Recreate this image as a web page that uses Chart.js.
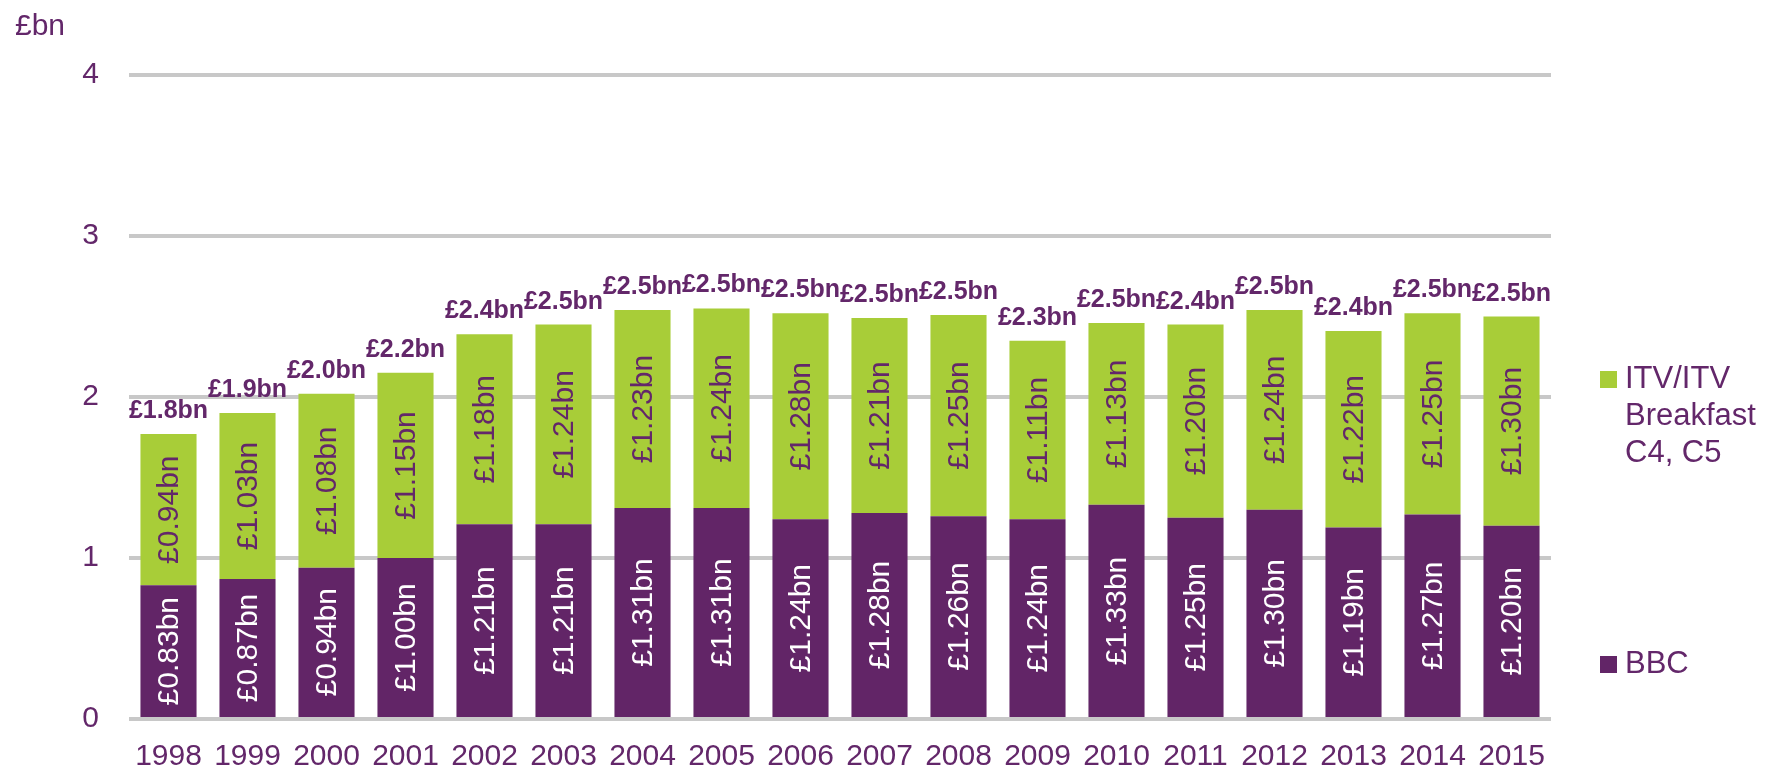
<!DOCTYPE html>
<html>
<head>
<meta charset="utf-8">
<script src="https://cdn.jsdelivr.net/npm/chart.js@4"></script>
<style>
  body { margin: 0; background: #fff; }
  #wrap { width: 1771px; height: 771px; position: relative; }
</style>
</head>
<body>
<div id="wrap"><canvas id="myChart"></canvas></div>
<script>
var years = ['1998', '1999', '2000', '2001', '2002', '2003', '2004', '2005', '2006',
             '2007', '2008', '2009', '2010', '2011', '2012', '2013', '2014', '2015'];
var bbc = [0.83, 0.87, 0.94, 1.00, 1.21, 1.21, 1.31, 1.31, 1.24,
           1.28, 1.26, 1.24, 1.33, 1.25, 1.30, 1.19, 1.27, 1.20];
var itv = [0.94, 1.03, 1.08, 1.15, 1.18, 1.24, 1.23, 1.24, 1.28,
           1.21, 1.25, 1.11, 1.13, 1.20, 1.24, 1.22, 1.25, 1.30];
var totalLabels = ['£1.8bn', '£1.9bn', '£2.0bn', '£2.2bn', '£2.4bn', '£2.5bn', '£2.5bn', '£2.5bn', '£2.5bn',
                   '£2.5bn', '£2.5bn', '£2.3bn', '£2.5bn', '£2.4bn', '£2.5bn', '£2.4bn', '£2.5bn', '£2.5bn'];
var seriesNames = ['BBC', 'ITV/ITV Breakfast C4, C5'];
var legendLines = [['BBC'], ['ITV/ITV', 'Breakfast', 'C4, C5']];
var yMax = 4;
var unitLabel = '£bn';

var PURPLE = '#622567';
var GREEN = '#a8cd38';
var TEXT = '#63276a';
var FONT = '"Liberation Sans", Arial, sans-serif';

// labels inside bars (rotated) and totals above
var barText = {
  id: 'barText',
  afterDatasetsDraw: function(chart) {
    var ctx = chart.ctx;
    ctx.save();
    ctx.font = '30px ' + FONT;
    ctx.textAlign = 'center';
    ctx.textBaseline = 'middle';
    chart.data.datasets.forEach(function(ds, d) {
      var meta = chart.getDatasetMeta(d);
      ctx.fillStyle = d == 0 ? '#ffffff' : TEXT;
      meta.data.forEach(function(bar, i) {
        ctx.save();
        ctx.translate(bar.x, (bar.y + bar.base) / 2);
        ctx.rotate(-Math.PI / 2);
        ctx.fillText('£' + ds.data[i].toFixed(2) + 'bn', 0, 1);
        ctx.restore();
      });
    });
    // totals
    var top = chart.getDatasetMeta(1);
    ctx.font = 'bold 25px ' + FONT;
    ctx.fillStyle = TEXT;
    ctx.textBaseline = 'alphabetic';
    top.data.forEach(function(bar, i) {
      ctx.fillText(totalLabels[i], bar.x, bar.y - 16);
    });
    ctx.restore();
  },
  afterDraw: function(chart) {
    var ctx = chart.ctx;
    var area = chart.chartArea;
    ctx.save();
    // unit label
    ctx.font = '30px ' + FONT;
    ctx.fillStyle = TEXT;
    ctx.textAlign = 'left';
    ctx.textBaseline = 'alphabetic';
    ctx.fillText(unitLabel, 15, 35);
    // legend
    var lx = area.right + 49;
    var items = [
      { color: GREEN, lines: legendLines[1], base: 388 },
      { color: PURPLE, lines: legendLines[0], base: 673 }
    ];
    ctx.font = '31px ' + FONT;
    items.forEach(function(it) {
      ctx.fillStyle = it.color;
      ctx.fillRect(lx, it.base - 17, 17, 17);
      ctx.fillStyle = TEXT;
      it.lines.forEach(function(t, k) {
        ctx.fillText(t, lx + 25, it.base + k * 37);
      });
    });
    ctx.restore();
  }
};

var ctx = document.getElementById('myChart');
var myChart = new Chart(ctx, {
  type: 'bar',
  data: {
    labels: years,
    datasets: [
      {
        label: seriesNames[0],
        data: bbc,
        backgroundColor: PURPLE,
        barPercentage: 0.71,
        categoryPercentage: 1
      },
      {
        label: seriesNames[1],
        data: itv,
        backgroundColor: GREEN,
        barPercentage: 0.71,
        categoryPercentage: 1
      }
    ]
  },
  options: {
    responsive: true,
    maintainAspectRatio: false,
    animation: false,
    layout: { padding: { top: 75, right: 220, left: 0, bottom: 0 } },
    plugins: {
      legend: { display: false },
      tooltip: { enabled: false }
    },
    scales: {
      x: {
        stacked: true,
        grid: { display: false, drawTicks: false },
        border: { display: false },
        ticks: {
          color: TEXT,
          font: { family: FONT, size: 30 },
          padding: 20,
          maxRotation: 0,
          autoSkip: false
        },
        afterFit: function(s) { s.height = 52; }
      },
      y: {
        stacked: true,
        min: 0,
        max: yMax,
        grid: { color: '#c8c8c8', lineWidth: 4, drawTicks: false },
        border: { display: false },
        ticks: {
          stepSize: 1,
          color: TEXT,
          font: { family: FONT, size: 30 },
          padding: 30
        },
        afterFit: function(s) { s.width = 129; }
      }
    }
  },
  plugins: [barText]
});
</script>
</body>
</html>
